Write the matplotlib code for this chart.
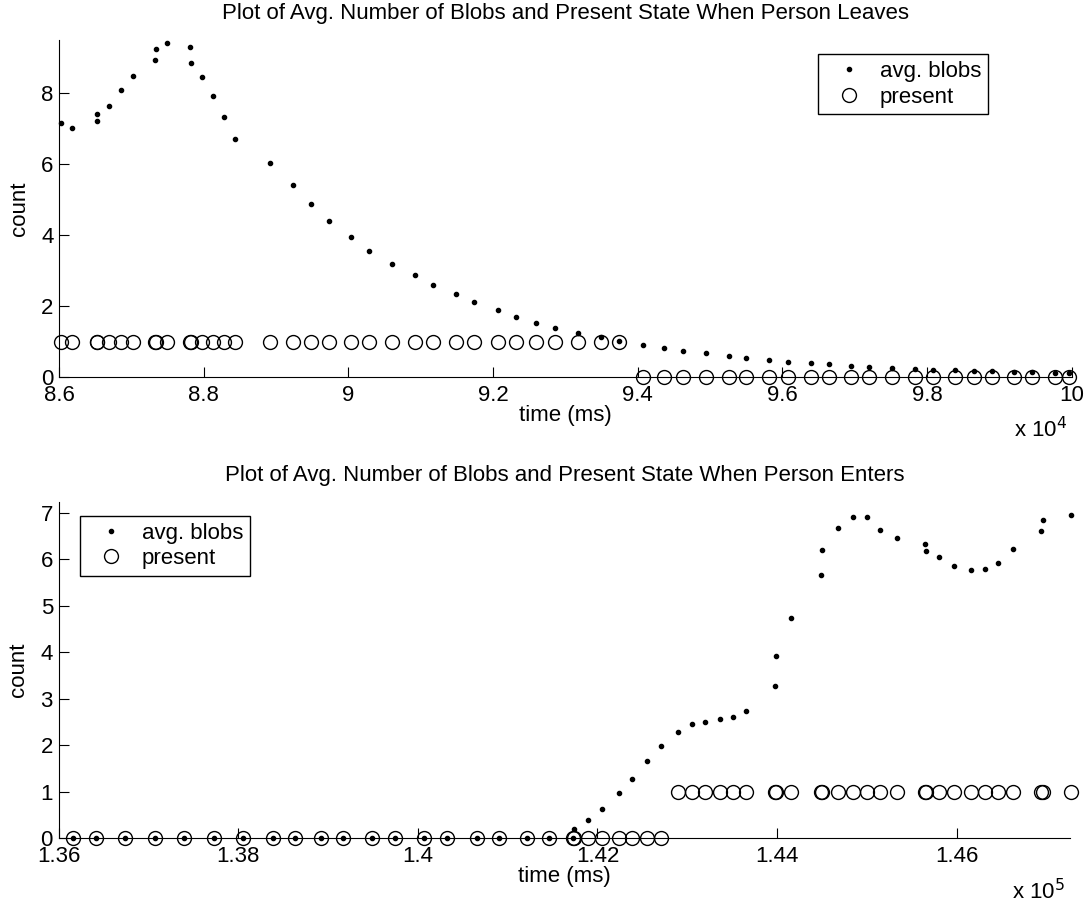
import matplotlib
matplotlib.use("Agg")
import matplotlib.pyplot as plt
from matplotlib.ticker import FuncFormatter

# --- person leaves (time in ms) ---
leave_time = [86030, 86185, 86520, 86530, 86690, 86860, 87030, 87330, 87340, 87500,
              87810, 87820, 87970, 88130, 88280, 88430, 88910, 89230, 89480, 89730,
              90040, 90290, 90600, 90920, 91170, 91490, 91740, 92070, 92320, 92600,
              92850, 93180, 93490, 93740, 94070, 94360, 94620, 94940, 95260, 95500,
              95810, 96080, 96390, 96640, 96940, 97190, 97520, 97830, 98080, 98390,
              98650, 98890, 99200, 99450, 99760, 99966]
leave_blobs = [7.14, 7.01, 7.22, 7.40, 7.64, 8.08, 8.48, 8.93, 9.24, 9.40,
               9.28, 8.84, 8.45, 7.92, 7.32, 6.69, 6.02, 5.42, 4.87, 4.38,
               3.95, 3.56, 3.19, 2.87, 2.59, 2.34, 2.10, 1.89, 1.70, 1.53,
               1.38, 1.23, 1.13, 1.01, 0.91, 0.82, 0.73, 0.67, 0.60, 0.54,
               0.48, 0.43, 0.39, 0.36, 0.32, 0.29, 0.25, 0.22, 0.21, 0.19,
               0.17, 0.16, 0.14, 0.13, 0.12, 0.11]
leave_present = [1] * 34 + [0] * 22

# --- person enters (time in ms) ---
enter_time = [136165, 136417, 136743, 137074, 137397, 137727, 138057, 138384, 138632, 138918,
              139163, 139486, 139745, 140068, 140321, 140654, 140903, 141211, 141459, 141730,
              141737, 141897, 142052, 142242, 142380, 142550, 142706, 142898, 143054, 143192,
              143366, 143504, 143659, 143971, 143989, 144160, 144490, 144505, 144676, 144850,
              145006, 145143, 145332, 145647, 145658, 145800, 145970, 146159, 146315, 146456,
              146627, 146943, 146957, 147272]
enter_blobs = [0] * 20 + [0.20, 0.38, 0.63, 0.97, 1.28, 1.65, 1.98, 2.28, 2.46, 2.51,
                          2.56, 2.60, 2.74, 3.27, 3.93, 4.74, 5.67, 6.20, 6.68, 6.91,
                          6.91, 6.63, 6.46, 6.32, 6.18, 6.06, 5.85, 5.77, 5.80, 5.91,
                          6.22, 6.60, 6.84, 6.95]
enter_present = [0] * 27 + [1] * 27

plt.rcParams['font.family'] = ['Liberation Sans', 'DejaVu Sans']
plt.rcParams['font.size'] = 16


def draw_panel(ax, t, blobs, present, title, xlim, ylim, xticks, yticks, scale, expo, legend_loc, anchor):
    ax.plot(t, blobs, '.', color='black', markersize=6, label='avg. blobs', clip_on=False)
    ax.plot(t, present, 'o', mfc='none', mec='black', markersize=10, mew=1.0,
            label='present', clip_on=False)
    ax.set_xlim(*xlim)
    ax.set_ylim(*ylim)
    ax.set_xticks(xticks)
    ax.set_yticks(yticks)
    ax.xaxis.set_major_formatter(FuncFormatter(lambda v, p: '%g' % round(v / scale, 4)))
    for s in ['top', 'right']:
        ax.spines[s].set_visible(False)
    ax.tick_params(direction='in', length=7, width=0.8, labelsize=16)
    ax.tick_params(axis='x', pad=6)
    ax.tick_params(axis='y', pad=4)
    ax.set_title(title, fontsize=16, pad=15)
    ax.set_xlabel('time (ms)', labelpad=-1)
    ax.set_ylabel('count', labelpad=8)
    ax.text(0.995, -0.12, 'x 10$^{%d}$' % expo, transform=ax.transAxes,
            ha='right', va='top', fontsize=16)
    leg = ax.legend(loc=legend_loc, bbox_to_anchor=anchor, fancybox=False,
                    edgecolor='black', framealpha=1, borderpad=0.3,
                    handlelength=2.2, handletextpad=0.3, labelspacing=0.2,
                    borderaxespad=0, fontsize=16)
    leg.get_frame().set_linewidth(1.0)


fig = plt.figure(figsize=(10.88, 9.07), dpi=100)
ax1 = fig.add_axes([0.0542, 0.5843, 0.931, 0.3716])
ax2 = fig.add_axes([0.0538, 0.0759, 0.930, 0.3710])

draw_panel(ax1, leave_time, leave_blobs, leave_present,
           'Plot of Avg. Number of Blobs and Present State When Person Leaves',
           (86000, 100000), (0, 9.49),
           [86000, 88000, 90000, 92000, 94000, 96000, 98000, 100000], [0, 2, 4, 6, 8],
           1e4, 4, 'upper right', (0.917, 0.957))

draw_panel(ax2, enter_time, enter_blobs, enter_present,
           'Plot of Avg. Number of Blobs and Present State When Person Enters',
           (136000, 147265), (0, 7.24),
           [136000, 138000, 140000, 142000, 144000, 146000], [0, 1, 2, 3, 4, 5, 6, 7],
           1e5, 5, 'upper left', (0.021, 0.957))

fig.savefig('out.png', dpi=100)
